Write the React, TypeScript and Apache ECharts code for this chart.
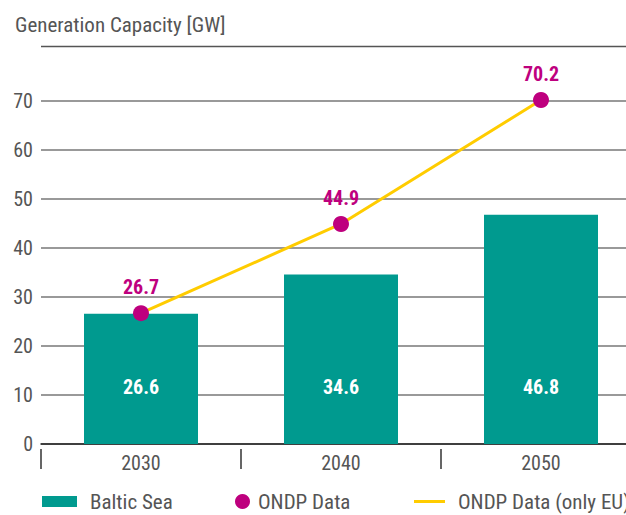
import React, { useEffect, useRef } from "react";
import * as echarts from "echarts";

const categories = ["2030", "2040", "2050"];
const balticSea = [26.6, 34.6, 46.8];
const ondpData = [26.7, 44.9, 70.2];
const ondpEU = [26.7, 44.9, 70.2];

const FONT = "'Roboto Condensed', 'Liberation Sans Narrow', 'Arial Narrow', Roboto, sans-serif";
const GREY = "#555555";
const TEAL = "#009A8F";
const MAGENTA = "#BE007E";
const YELLOW = "#FFCC00";
const FS = 20;

export default function App() {
  const ref = useRef<HTMLDivElement>(null);
  useEffect(() => {
    if (!ref.current) return;
    const chart = echarts.init(ref.current, undefined, { renderer: "svg" });
    chart.setOption({
      animation: false,
      textStyle: { fontFamily: FONT },
      title: {
        text: "Generation Capacity [GW]",
        left: 10,
        top: 9,
        textStyle: { fontFamily: FONT, fontSize: 21, fontWeight: "normal", color: GREY },
      },
      graphic: [
        {
          type: "line",
          shape: { x1: 41, y1: 46.5, x2: 645, y2: 46.5 },
          style: { stroke: "#555", lineWidth: 1.5 },
        },
      ],
      legend: [
        {
          data: [{ name: "Baltic Sea", icon: "rect" }],
          left: 42,
          bottom: 3,
          padding: 0,
          itemWidth: 35,
          itemHeight: 11,
          textStyle: { fontFamily: FONT, fontSize: 21, color: GREY, padding: [0, 0, 0, 8] },
        },
        {
          data: [{ name: "ONDP Data", icon: "circle" }],
          left: 235,
          bottom: 3,
          padding: 0,
          itemWidth: 15,
          itemHeight: 15,
          textStyle: { fontFamily: FONT, fontSize: 21, color: GREY, padding: [0, 0, 0, 3] },
        },
        {
          data: [{ name: "ONDP Data (only EU)", icon: "rect" }],
          left: 414,
          bottom: 3,
          padding: 0,
          itemWidth: 31,
          itemHeight: 3,
          textStyle: { fontFamily: FONT, fontSize: 21, color: GREY, padding: [0, 0, 0, 8] },
        },
      ],
      grid: { left: 41, right: 4, top: 101, bottom: 71, containLabel: false },
      xAxis: [
        {
          type: "category",
          data: categories,
          axisLine: { show: true, lineStyle: { color: "#222", width: 1.5 } },
          axisTick: { show: false },
          axisLabel: { show: false },
        },
        {
          type: "category",
          data: categories,
          position: "bottom",
          offset: 5,
          axisLine: { show: false },
          axisTick: { show: true, length: 20, lineStyle: { color: "#333", width: 1.5 } },
          axisLabel: { show: true, margin: 4, fontFamily: FONT, fontSize: FS, color: GREY },
        },
      ],
      yAxis: {
        type: "value",
        min: 0,
        max: 70,
        interval: 10,
        axisLine: { show: false },
        axisTick: { show: false },
        axisLabel: { margin: 8, fontFamily: FONT, fontSize: FS, color: GREY },
        splitLine: { lineStyle: { color: "#777", width: 1.5 } },
      },
      series: [
        {
          name: "Baltic Sea",
          type: "bar",
          xAxisIndex: 0,
          data: balticSea,
          barWidth: 114,
          itemStyle: { color: TEAL },
          label: {
            show: true,
            position: "insideBottom",
            distance: 47,
            color: "#fff",
            fontFamily: FONT,
            fontSize: 20,
            fontWeight: "bold",
          },
          z: 2,
        },
        {
          name: "ONDP Data (only EU)",
          type: "line",
          xAxisIndex: 0,
          data: ondpEU,
          symbol: "none",
          clip: false,
          lineStyle: { color: YELLOW, width: 3 },
          itemStyle: { color: YELLOW },
          z: 3,
        },
        {
          name: "ONDP Data",
          type: "scatter",
          xAxisIndex: 0,
          data: ondpData,
          symbolSize: 16,
          clip: false,
          itemStyle: { color: MAGENTA, opacity: 1 },
          label: {
            show: true,
            position: "top",
            distance: 8,
            color: MAGENTA,
            fontFamily: FONT,
            fontSize: 20,
            fontWeight: "bold",
          },
          emphasis: { disabled: true },
          z: 4,
        },
      ],
    });
    return () => chart.dispose();
  }, []);
  return (
    <div
      style={{
        position: "absolute",
        left: 0,
        top: 0,
        width: 626,
        height: 515,
        overflow: "hidden",
      }}
    >
      <div ref={ref} style={{ width: 645, height: 515 }} />
    </div>
  );
}
